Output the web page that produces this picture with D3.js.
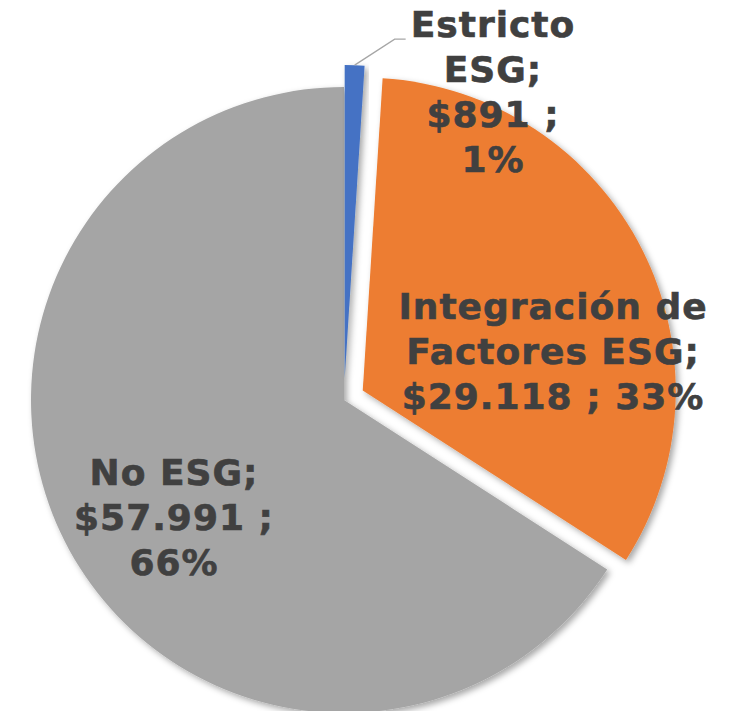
<!DOCTYPE html>
<html>
<head>
<meta charset="utf-8">
<script src="https://cdn.jsdelivr.net/npm/d3@7"></script>
<style>
  body { margin: 0; background: #fff; }
  svg { display: block; }
</style>
</head>
<body>
<div id="chart"></div>
<script>
// data
var categories = ["Estricto ESG", "Integración de Factores ESG", "No ESG"];
var values = [891, 29118, 57991];
var valueLabels = ["$891", "$29.118", "$57.991"];
var colors = ["#4472C4", "#ED7D31", "#A5A5A5"];
var explode = [22, 21, 0];

// label lines (as Excel wraps them) and where they sit relative to pie centre
var labelLines = [
  ["Estricto", "ESG;", "$891 ;", "1%"],
  ["Integración de", "Factores ESG;", "$29.118 ; 33%"],
  ["No ESG;", "$57.991 ;", "66%"]
];
var labelPos = [[149, -363], [209, -81], [-170, 85]];

var width = 734;
var height = 711;
var cx = 344, cy = 400, radius = 313;

var svg = d3
  .select("#chart")
  .append("svg")
  .attr("width", width)
  .attr("height", height);

var defs = svg.append("defs");
var filter = defs.append("filter")
  .attr("id", "shadow")
  .attr("x", "-20%").attr("y", "-20%")
  .attr("width", "140%").attr("height", "140%");
filter.append("feDropShadow")
  .attr("dx", 3).attr("dy", 3)
  .attr("stdDeviation", 3)
  .attr("flood-color", "#000")
  .attr("flood-opacity", 0.35);

var g = svg.append("g")
  .attr("transform", "translate(" + cx + "," + cy + ")");

var pie = d3.pie().sort(null).value((d) => d);
var arcs = pie(values);
var arc = d3.arc().innerRadius(0).outerRadius(radius);

// slices, gray first so the shadows of the exploded ones sit on top
var order = [2, 0, 1];
g.selectAll(".slice")
  .data(order.map((i) => ({ a: arcs[i], i: i })))
  .enter()
  .append("path")
  .attr("class", "slice")
  .attr("filter", "url(#shadow)")
  .attr("fill", (d) => colors[d.i])
  .attr("transform", function (d) {
    var mid = (d.a.startAngle + d.a.endAngle) / 2;
    var off = explode[d.i];
    return "translate(" + off * Math.sin(mid) + "," + -off * Math.cos(mid) + ")";
  })
  .attr("d", (d) => arc(d.a));

// leader line for the small slice
var bMid = (arcs[0].startAngle + arcs[0].endAngle) / 2;
var bR = radius + explode[0];
var p0 = [bR * Math.sin(bMid), -bR * Math.cos(bMid)];
g.append("polyline")
  .attr("points", [p0, [p0[0] + 40, p0[1] - 26], [p0[0] + 51, p0[1] - 26]].map((p) => p.join(",")).join(" "))
  .attr("fill", "none")
  .attr("stroke", "#A6A6A6")
  .attr("stroke-width", 1.3);

// labels
var lineH = 45;
var labels = g.selectAll(".label")
  .data(labelLines)
  .enter()
  .append("text")
  .attr("class", "label")
  .attr("text-anchor", "middle")
  .attr("font-family", "'DejaVu Sans', Verdana, sans-serif")
  .attr("font-weight", "bold")
  .attr("font-size", "36px")
  .attr("letter-spacing", "1px")
  .attr("fill", "#404040")
  .attr("stroke", "#404040")
  .attr("stroke-width", 0.6)
  .attr("transform", (d, i) => "translate(" + labelPos[i][0] + "," + labelPos[i][1] + ")");

labels.selectAll("tspan")
  .data((d) => d)
  .enter()
  .append("tspan")
  .attr("x", 0)
  .attr("y", (d, j) => j * lineH)
  .text((d) => d);
</script>
</body>
</html>
